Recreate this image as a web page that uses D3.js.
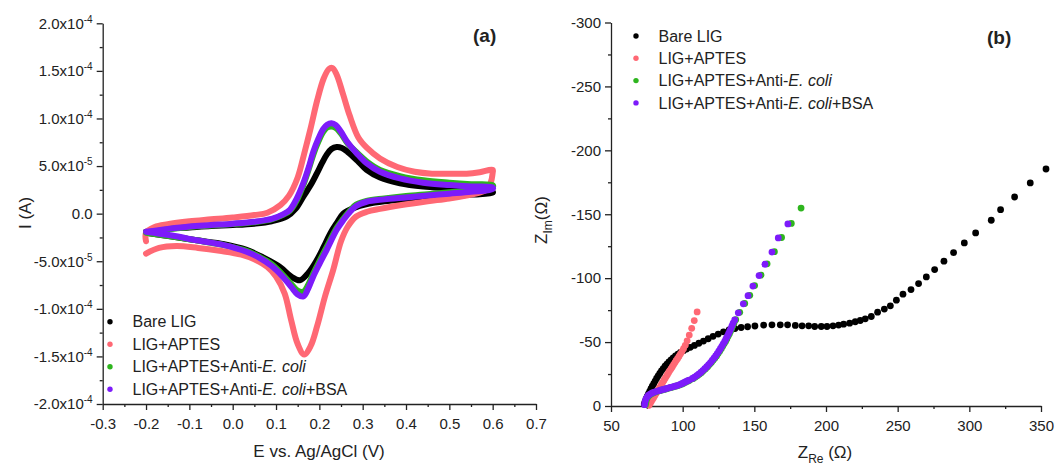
<!DOCTYPE html>
<html>
<head>
<meta charset="utf-8">
<script src="https://cdn.jsdelivr.net/npm/d3@7"></script>
<style>
  body { margin: 0; background: #fff; }
  svg { display: block; }
  text { font-family: Arial, "Liberation Sans", sans-serif; fill: #222; }
</style>
</head>
<body>
<svg id="chart" width="1060" height="470"></svg>
<script>
// ---------- series names ----------
const seriesNames = ["Bare LIG", "LIG+APTES", "LIG+APTES+Anti-E. coli", "LIG+APTES+Anti-E. coli+BSA"];

// ---------- (a) cyclic voltammetry: potential (V) and current (x1e-5 A), full cycle ----------
const bareE = [-0.2,-0.15,-0.1,-0.05,0.0,0.05,0.09,0.125,0.145,0.163,0.18,0.194,0.206,0.217,0.228,0.24,0.252,0.265,0.287,0.309,0.34,0.386,0.44,0.5,0.55,0.6,
               0.6,0.55,0.5,0.45,0.4,0.35,0.31,0.28,0.255,0.24,0.225,0.21,0.194,0.175,0.155,0.135,0.109,0.07,0.032,-0.02,-0.083,-0.14,-0.2];
const bareI = [-1.9,-1.6,-1.45,-1.3,-1.2,-1.05,-0.8,-0.3,0.5,1.8,3.0,4.2,5.3,6.2,6.8,7.0,6.9,6.5,5.6,4.6,3.8,3.2,2.85,2.65,2.45,2.3,
               2.2,2.0,1.8,1.65,1.5,1.3,1.0,0.6,0.0,-1.0,-2.1,-3.5,-4.9,-6.2,-7.0,-6.6,-5.6,-4.6,-3.8,-3.2,-2.8,-2.4,-2.0];

const aptesE = [-0.2,-0.2,-0.18,-0.15,-0.1,-0.05,0.0,0.05,0.08,0.11,0.13,0.15,0.165,0.18,0.195,0.21,0.222,0.23,0.24,0.255,0.27,0.29,0.31,0.34,0.38,0.42,0.46,0.5,0.54,0.57,0.6,
                0.6,0.595,0.585,0.55,0.5,0.45,0.39,0.34,0.31,0.285,0.265,0.25,0.232,0.213,0.195,0.18,0.165,0.15,0.135,0.12,0.1,0.08,0.05,0.02,-0.03,-0.08,-0.13,-0.17,-0.2];
const aptesI = [-2.9,-2.0,-1.4,-1.1,-0.8,-0.6,-0.4,-0.15,0.1,0.9,1.9,3.8,6.3,9.0,11.9,14.2,15.2,15.3,14.6,12.5,10.3,8.0,6.9,5.8,4.9,4.4,4.2,4.2,4.2,4.35,4.6,
                4.3,3.2,2.5,2.0,1.6,1.3,0.9,0.5,0.2,-0.3,-1.4,-2.9,-5.9,-8.7,-11.8,-13.9,-14.8,-13.7,-11.2,-8.4,-6.6,-5.6,-4.8,-4.3,-3.9,-3.6,-3.4,-3.6,-4.2];

const antiE = [-0.2,-0.15,-0.1,-0.05,0.0,0.05,0.09,0.115,0.132,0.148,0.163,0.175,0.186,0.198,0.209,0.218,0.228,0.238,0.25,0.265,0.287,0.309,0.34,0.386,0.44,0.5,0.55,0.6,
               0.6,0.55,0.5,0.45,0.4,0.35,0.309,0.285,0.271,0.255,0.24,0.217,0.2,0.186,0.174,0.163,0.15,0.135,0.115,0.09,0.06,0.032,-0.02,-0.083,-0.14,-0.2];
const antiI = [-1.95,-1.65,-1.4,-1.25,-1.1,-0.9,-0.6,-0.15,0.3,1.4,3.0,4.6,6.2,7.6,8.6,9.05,9.15,9.0,8.4,7.4,6.4,5.5,4.6,3.95,3.5,3.25,3.1,3.0,
               2.8,2.45,2.25,2.05,1.85,1.6,1.35,0.95,0.35,-0.55,-1.5,-3.5,-5.0,-6.3,-7.5,-8.2,-8.1,-7.4,-6.4,-5.3,-4.5,-3.9,-3.3,-2.8,-2.4,-2.0];

const bsaE = [-0.2,-0.15,-0.1,-0.05,0.0,0.05,0.09,0.115,0.132,0.148,0.163,0.175,0.186,0.198,0.209,0.218,0.228,0.238,0.25,0.265,0.287,0.309,0.34,0.386,0.44,0.5,0.55,0.6,
              0.6,0.55,0.5,0.45,0.4,0.35,0.309,0.285,0.271,0.255,0.24,0.217,0.2,0.186,0.174,0.163,0.15,0.135,0.115,0.09,0.06,0.032,-0.02,-0.083,-0.14,-0.2];
const bsaI = [-1.9,-1.6,-1.35,-1.2,-1.05,-0.85,-0.55,-0.1,0.4,1.6,3.2,4.8,6.5,7.9,8.9,9.35,9.5,9.3,8.6,7.5,6.3,5.3,4.4,3.7,3.25,3.0,2.85,2.75,
              2.6,2.3,2.1,1.9,1.7,1.5,1.25,0.8,0.2,-0.7,-1.7,-3.8,-5.3,-6.6,-7.9,-8.7,-8.5,-7.7,-6.6,-5.5,-4.6,-4.0,-3.3,-2.8,-2.3,-1.9];

// ---------- (b) Nyquist plot: Z_Re (ohm) and Z_Im (ohm) ----------
const bareRe = [73.2,73.8,74.5,75.3,76.1,77.0,77.9,78.8,79.8,80.8,81.8,82.9,84.0,85.2,86.4,87.7,89.0,90.4,91.9,93.4,95.0,96.7,98.5,100.5,102.7,
                105.3,108.2,111.3,114.5,117.8,121.2,124.8,128.5,132.4,136.5,140.8,145.3,150.4,156.5,162.3,168.1,173.2,178.6,183.3,187.9,192.1,196.7,
                200.7,204.9,208.8,212.3,216.5,220.4,223.9,227.4,231.6,236.0,240.7,244.9,249.1,253.7,259.3,264.6,270.0,275.8,282.3,289.0,296.5,304.4,
                315.3,321.8,331.6,342.5,353.5];
const bareIm = [-1.5,-3.5,-5.5,-7.5,-9.5,-11.5,-13.5,-15.5,-17.5,-19.5,-21.5,-23.5,-25.5,-27.5,-29.3,-31.1,-32.8,-34.5,-36.1,-37.6,-39.1,-40.5,-41.9,-43.3,-44.6,
                -45.9,-47.4,-49.1,-50.8,-52.6,-54.5,-56.3,-58.0,-59.5,-60.6,-61.4,-62.0,-62.6,-63.3,-63.5,-63.5,-63.5,-63.0,-62.7,-62.7,-62.2,-62.2,
                -62.2,-62.7,-63.3,-64.0,-64.8,-65.9,-66.9,-68.2,-70.0,-73.4,-75.8,-78.4,-82.8,-87.5,-91.1,-95.8,-101.0,-106.7,-113.3,-120.0,-127.6,-135.4,
                -145.3,-153.6,-163.5,-174.5,-185.4];

const aptesRe = [76.5,77.3,78.1,78.9,79.7,80.5,81.3,82.1,82.9,83.7,84.5,85.3,86.1,86.9,87.7,88.5,89.3,90.1,90.9,91.8,92.7,93.6,94.5,95.4,96.4,97.4,98.4,99.5,
                 100.6,101.8,103.1,104.6,106.3,108.1,110.1];
const aptesIm = [-0.5,-2,-3.5,-5,-6.5,-8,-9.5,-11,-12.5,-14,-15.5,-17,-18.5,-20,-21.5,-23,-24.5,-26,-27.5,-29,-30.6,-32.2,-33.8,-35.4,-37,-38.8,-40.6,-42.6,
                 -44.8,-47.5,-51,-55.5,-60.8,-66.8,-73.6];

const antiRe = [74.0,74.3,74.8,75.6,76.6,77.9,79.3,80.8,82.4,84.0,85.6,87.2,88.8,90.4,92.0,93.6,95.2,96.7,98.2,99.6,101.0,102.4,103.8,105.1,107.4,108.9,110.4,
                111.8,113.2,114.6,116.0,117.4,118.7,120.0,121.2,122.4,123.6,124.7,125.8,126.9,127.9,128.9,129.9,130.8,131.7,132.6,133.4,134.2,135.0,135.8,137.0,
                139.8,143.3,146.8,150.2,154.7,158.9,164.0,169.0,175.8,182.6];
const antiIm = [-1,-3,-5,-6.8,-8.2,-9.3,-10.2,-10.9,-11.5,-12.0,-12.5,-13.0,-13.5,-14.0,-14.5,-15.0,-15.5,-16.0,-16.6,-17.3,-18.0,-18.8,-19.6,-20.3,-21.5,-22.6,-23.8,
                -25.0,-26.3,-27.7,-29.2,-30.8,-32.4,-34.0,-35.7,-37.4,-39.2,-41.0,-42.9,-44.8,-46.7,-48.6,-50.5,-52.5,-54.5,-56.5,-58.5,-60.6,-62.7,-64.9,-67.5,
                -73.3,-80.2,-86.6,-94.2,-102.4,-111.2,-120.7,-131.8,-142.8,-154.8];

const bsaRe = [73.4,73.7,74.2,75.0,76.0,77.3,78.7,80.2,81.8,83.4,85.0,86.6,88.2,89.8,91.4,93.0,94.6,96.1,97.6,99.0,100.4,101.8,103.2,104.5,106.8,108.3,109.8,
               111.2,112.6,114.0,115.4,116.8,118.1,119.4,120.6,121.8,123.0,124.1,125.2,126.3,127.3,128.3,129.3,130.2,131.1,132.0,132.8,133.6,134.4,135.2,136.3,
               138.8,142.3,145.6,149.0,153.3,157.4,162.3,166.7,173.4];
const bsaIm = [-1,-3,-5,-6.8,-8.2,-9.3,-10.2,-10.9,-11.5,-12.0,-12.5,-13.0,-13.5,-14.0,-14.5,-15.0,-15.5,-16.0,-16.6,-17.3,-18.0,-18.8,-19.6,-20.3,-21.5,-22.6,-23.8,
               -25.0,-26.3,-27.7,-29.2,-30.8,-32.4,-34.0,-35.7,-37.4,-39.2,-41.0,-42.9,-44.8,-46.7,-48.6,-50.5,-52.5,-54.5,-56.5,-58.5,-60.6,-62.7,-64.9,-67.3,
               -72.9,-79.9,-86.3,-93.8,-102.0,-110.9,-120.4,-131.5,-142.4];

// ---------- ticks ----------
const cvTicksX = [-0.3,-0.2,-0.1,0.0,0.1,0.2,0.3,0.4,0.5,0.6,0.7];
const cvMinorX = [-0.25,-0.15,-0.05,0.05,0.15,0.25,0.35,0.45,0.55,0.65];
const cvTicksY = [-2e-4,-1.5e-4,-1e-4,-5e-5,0,5e-5,1e-4,1.5e-4,2e-4];
const cvMinorY = [-1.75e-4,-1.25e-4,-7.5e-5,-2.5e-5,2.5e-5,7.5e-5,1.25e-4,1.75e-4];
const eisTicksX = [50,100,150,200,250,300,350];
const eisMinorX = [75,125,175,225,275,325];
const eisTicksY = [0,-50,-100,-150,-200,-250,-300];
const eisMinorY = [-25,-75,-125,-175,-225,-275];

const colors = ["#000000", "#ff6874", "#2eb51e", "#7d1bfa"];
const CV_UNIT = 1e-5;

const svg = d3.select("#chart");

// ---------- scales ----------
const cvX = d3.scaleLinear().domain([-0.3, 0.7]).range([102.7, 536]);
const cvY = d3.scaleLinear().domain([-2e-4, 2e-4]).range([404, 23.3]);
const eisX = d3.scaleLinear().domain([50, 350]).range([611, 1041]);
const eisY = d3.scaleLinear().domain([0, -300]).range([406, 22.5]);

// ---------- axis helpers ----------
function styleAxis(g) {
  g.select(".domain").attr("stroke", "#222").attr("stroke-width", 1.3);
  g.selectAll(".tick line").attr("stroke", "#222").attr("stroke-width", 1.3);
  g.selectAll(".tick text").attr("font-size", 15).attr("fill", "#222")
    .attr("font-family", "Arial, 'Liberation Sans', sans-serif");
}
function minorAxis(parent, gen, values, transform) {
  const g = parent.append("g").attr("transform", transform)
    .call(gen.tickValues(values).tickSize(3).tickFormat(""));
  g.select(".domain").remove();
  g.selectAll(".tick line").attr("stroke", "#222").attr("stroke-width", 1.3);
}
function sciLabel(v) {
  if (v === 0) return ["0.0", null];
  const e = Math.floor(Math.log10(Math.abs(v)) + 1e-9);
  const m = v / Math.pow(10, e);
  return [m.toFixed(1) + "x10", String(e)];
}

// ================= (a) CV panel =================
const pa = svg.append("g");

const gxA = pa.append("g").attr("transform", "translate(0,404)")
  .call(d3.axisBottom(cvX).tickValues(cvTicksX).tickSize(6).tickSizeOuter(0).tickPadding(8)
    .tickFormat(d => d.toFixed(1)));
styleAxis(gxA);
minorAxis(pa, d3.axisBottom(cvX), cvMinorX, "translate(0,404)");

const gyA = pa.append("g").attr("transform", "translate(102.7,0)")
  .call(d3.axisLeft(cvY).tickValues(cvTicksY).tickSize(6).tickSizeOuter(0).tickPadding(4));
styleAxis(gyA);
gyA.selectAll(".tick text").each(function(d) {
  const t = d3.select(this).text(null);
  const [main, sup] = sciLabel(d);
  t.append("tspan").text(main);
  if (sup) t.append("tspan").attr("font-size", 10).attr("dy", "-0.6em").text(sup);
});
minorAxis(pa, d3.axisLeft(cvY), cvMinorY, "translate(102.7,0)");

// CV traces
const cvLine = d3.line()
  .x(d => cvX(d[0]))
  .y(d => cvY(d[1] * CV_UNIT))
  .curve(d3.curveCatmullRom.alpha(0.5));
const cvSeries = [
  [bareE, bareI], [aptesE, aptesI], [antiE, antiI], [bsaE, bsaI]
];
cvSeries.forEach(([E, I], k) => {
  pa.append("path")
    .datum(d3.zip(E, I))
    .attr("d", cvLine)
    .attr("fill", "none")
    .attr("stroke", colors[k])
    .attr("stroke-width", 6)
    .attr("stroke-linecap", "round")
    .attr("stroke-linejoin", "round");
});

// axis titles and panel tag
pa.append("text").attr("x", 319).attr("y", 457).attr("text-anchor", "middle")
  .attr("font-size", 17).text("E vs. Ag/AgCl (V)");
pa.append("text").attr("transform", "translate(31,213) rotate(-90)").attr("text-anchor", "middle")
  .attr("font-size", 17).text("I (A)");
pa.append("text").attr("x", 473).attr("y", 42).attr("font-size", 19).attr("font-weight", 600)
  .attr("font-family", "'Open Sans', Arial, sans-serif").text("(a)");

// ================= (b) EIS panel =================
const pb = svg.append("g");

const gxB = pb.append("g").attr("transform", "translate(0,406)")
  .call(d3.axisBottom(eisX).tickValues(eisTicksX).tickSize(6).tickSizeOuter(0).tickPadding(8)
    .tickFormat(d => String(d)));
styleAxis(gxB);
minorAxis(pb, d3.axisBottom(eisX), eisMinorX, "translate(0,406)");

const gyB = pb.append("g").attr("transform", "translate(611,0)")
  .call(d3.axisLeft(eisY).tickValues(eisTicksY).tickSize(6).tickSizeOuter(0).tickPadding(4)
    .tickFormat(d => String(d)));
styleAxis(gyB);
minorAxis(pb, d3.axisLeft(eisY), eisMinorY, "translate(611,0)");

const eisSeries = [
  [bareRe, bareIm], [aptesRe, aptesIm], [antiRe, antiIm], [bsaRe, bsaIm]
];
eisSeries.forEach(([re, im], k) => {
  pb.append("g").selectAll("circle")
    .data(d3.zip(re, im))
    .join("circle")
    .attr("cx", d => eisX(d[0]))
    .attr("cy", d => eisY(d[1]))
    .attr("r", 3.4)
    .attr("fill", colors[k]);
});

const xtB = pb.append("text").attr("x", 825).attr("y", 458).attr("text-anchor", "middle").attr("font-size", 17);
xtB.append("tspan").text("Z");
xtB.append("tspan").attr("font-size", 12).attr("dy", 5).text("Re");
xtB.append("tspan").attr("dy", -5).text(" (Ω)");

const ytB = pb.append("text").attr("transform", "translate(547,220) rotate(-90)").attr("text-anchor", "middle").attr("font-size", 17);
ytB.append("tspan").text("Z");
ytB.append("tspan").attr("font-size", 12).attr("dy", 5).text("Im");
ytB.append("tspan").attr("dy", -5).text("(Ω)");

pb.append("text").attr("x", 987).attr("y", 44).attr("font-size", 19).attr("font-weight", 600)
  .attr("font-family", "'Open Sans', Arial, sans-serif").text("(b)");

// ---------- legends ----------
function legend(parent, x0, y0, step) {
  seriesNames.forEach((name, k) => {
    const y = y0 + k * step;
    parent.append("circle").attr("cx", x0).attr("cy", y).attr("r", 2.7).attr("fill", colors[k]);
    const t = parent.append("text").attr("x", x0 + 22.5).attr("y", y).attr("dy", "0.36em").attr("font-size", 16);
    const m = name.match(/^(.*Anti-)(E\. coli)(.*)$/);
    if (m) {
      t.append("tspan").text(m[1]);
      t.append("tspan").attr("font-style", "italic").text(m[2]);
      if (m[3]) t.append("tspan").text(m[3]);
    } else {
      t.text(name);
    }
  });
}
legend(pa, 110, 321.7, 22.5);
legend(pb, 636, 36, 22.3);
</script>
</body>
</html>
